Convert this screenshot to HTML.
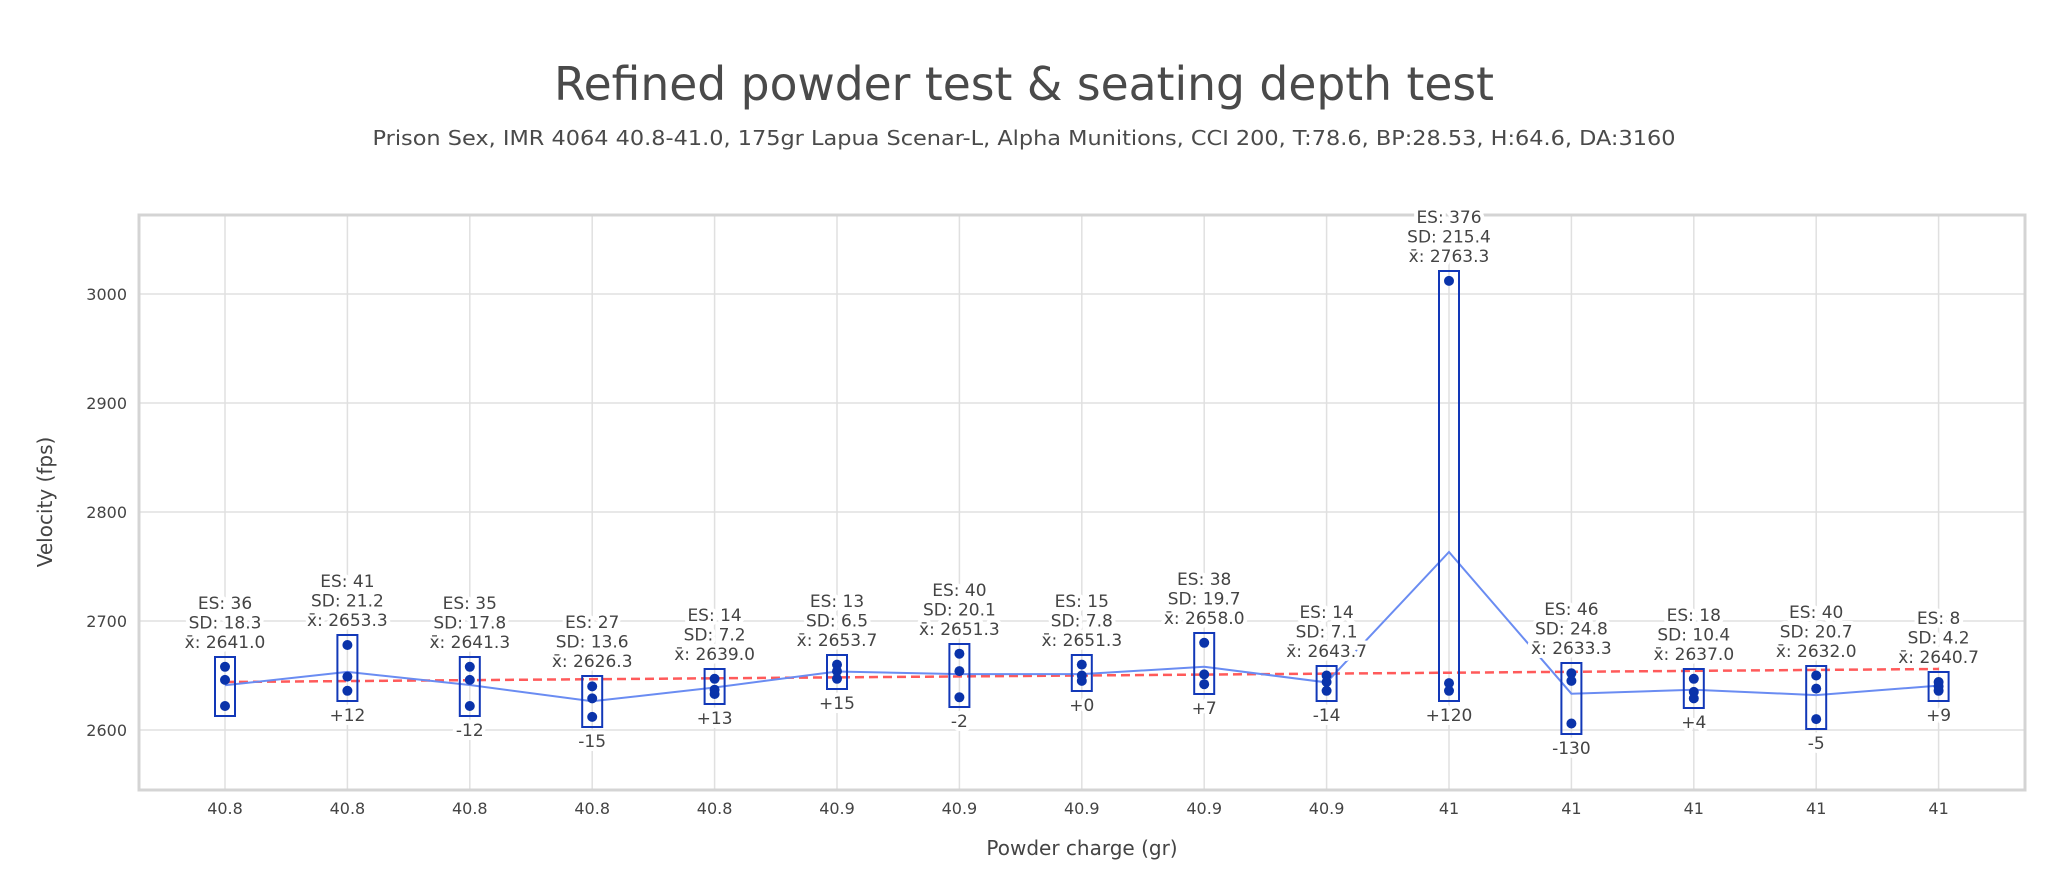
<!DOCTYPE html>
<html><head><meta charset="utf-8"><style>
html,body{margin:0;padding:0;background:#fff;}
svg{display:block;font-family:"DejaVu Sans","Liberation Sans",sans-serif;}
.g{stroke:#e0e0e0;stroke-width:1.5;}
.t{font-size:17px;fill:#444;text-anchor:middle;paint-order:stroke;stroke:#fff;stroke-width:8px;stroke-linejoin:round;}
.b{fill:none;stroke:#1238b8;stroke-width:2;}
.d{fill:#0a33aa;}
.tk{font-size:16px;fill:#444;}
</style></head><body>
<svg width="2048" height="889" viewBox="0 0 2048 889" xmlns="http://www.w3.org/2000/svg">
<rect width="2048" height="889" fill="#fff"/>
<text x="1024" y="100" font-size="46" fill="#4a4a4a" text-anchor="middle" textLength="940" lengthAdjust="spacingAndGlyphs">Refined powder test &amp; seating depth test</text>
<text x="1024" y="145" font-size="20" fill="#4a4a4a" text-anchor="middle" textLength="1303" lengthAdjust="spacingAndGlyphs">Prison Sex, IMR 4064 40.8-41.0, 175gr Lapua Scenar-L, Alpha Munitions, CCI 200, T:78.6, BP:28.53, H:64.6, DA:3160</text>
<g class="g">
<line x1="139" y1="294" x2="2025" y2="294"/><line x1="139" y1="403" x2="2025" y2="403"/><line x1="139" y1="512" x2="2025" y2="512"/><line x1="139" y1="621" x2="2025" y2="621"/><line x1="139" y1="730" x2="2025" y2="730"/>
<line x1="225" y1="215" x2="225" y2="790"/><line x1="347.4" y1="215" x2="347.4" y2="790"/><line x1="469.8" y1="215" x2="469.8" y2="790"/><line x1="592.2" y1="215" x2="592.2" y2="790"/><line x1="714.6" y1="215" x2="714.6" y2="790"/><line x1="837" y1="215" x2="837" y2="790"/><line x1="959.4" y1="215" x2="959.4" y2="790"/><line x1="1081.8" y1="215" x2="1081.8" y2="790"/><line x1="1204.2" y1="215" x2="1204.2" y2="790"/><line x1="1326.6" y1="215" x2="1326.6" y2="790"/><line x1="1449" y1="215" x2="1449" y2="790"/><line x1="1571.4" y1="215" x2="1571.4" y2="790"/><line x1="1693.8" y1="215" x2="1693.8" y2="790"/><line x1="1816.2" y1="215" x2="1816.2" y2="790"/><line x1="1938.6" y1="215" x2="1938.6" y2="790"/>
</g>
<rect x="139" y="215" width="1886" height="575" fill="none" stroke="#d4d4d4" stroke-width="3"/>
<g class="tk" text-anchor="end">
<text x="127" y="300">3000</text><text x="127" y="409">2900</text><text x="127" y="518">2800</text><text x="127" y="627">2700</text><text x="127" y="736">2600</text>
</g>
<g class="tk" text-anchor="middle">
<text x="225" y="814">40.8</text><text x="347.4" y="814">40.8</text><text x="469.8" y="814">40.8</text><text x="592.2" y="814">40.8</text><text x="714.6" y="814">40.8</text><text x="837" y="814">40.9</text><text x="959.4" y="814">40.9</text><text x="1081.8" y="814">40.9</text><text x="1204.2" y="814">40.9</text><text x="1326.6" y="814">40.9</text><text x="1449" y="814">41</text><text x="1571.4" y="814">41</text><text x="1693.8" y="814">41</text><text x="1816.2" y="814">41</text><text x="1938.6" y="814">41</text>
</g>
<text x="1082" y="855" font-size="20" fill="#444" text-anchor="middle">Powder charge (gr)</text>
<text transform="translate(52,502) rotate(-90)" font-size="20" fill="#444" text-anchor="middle">Velocity (fps)</text>
<line x1="225" y1="682" x2="1939" y2="669" stroke="#ff5a5a" stroke-width="2.5" stroke-dasharray="9,5"/>
<polyline fill="none" stroke="#6a8cf2" stroke-width="2" points="225,685.3 347.4,671.9 469.8,685 592.2,701.3 714.6,687.5 837,671.5 959.4,674.1 1081.8,674.1 1204.2,666.8 1326.6,682.4 1449,552 1571.4,693.7 1693.8,689.7 1816.2,695.1 1938.6,685.6"/>
<g class="b">
<rect x="215" y="657" width="20" height="59"/><rect x="337.4" y="635" width="20" height="66"/><rect x="459.8" y="657" width="20" height="59"/><rect x="582.2" y="676" width="20" height="51"/><rect x="704.6" y="669" width="20" height="35"/><rect x="827" y="655" width="20" height="34"/><rect x="949.4" y="644" width="20" height="63"/><rect x="1071.8" y="655" width="20" height="36"/><rect x="1194.2" y="633" width="20" height="61"/><rect x="1316.6" y="666" width="20" height="35"/><rect x="1439" y="271" width="20" height="430"/><rect x="1561.4" y="663" width="20" height="71"/><rect x="1683.8" y="669" width="20" height="39"/><rect x="1806.2" y="666" width="20" height="63"/><rect x="1928.6" y="672" width="20" height="29"/>
</g>
<g class="d">
<circle cx="225" cy="666.8" r="5"/><circle cx="225" cy="679.9" r="5"/><circle cx="225" cy="706" r="5"/>
<circle cx="347.4" cy="645" r="5"/><circle cx="347.4" cy="676.6" r="5"/><circle cx="347.4" cy="690.8" r="5"/>
<circle cx="469.8" cy="666.8" r="5"/><circle cx="469.8" cy="679.9" r="5"/><circle cx="469.8" cy="706" r="5"/>
<circle cx="592.2" cy="686.4" r="5"/><circle cx="592.2" cy="698.4" r="5"/><circle cx="592.2" cy="716.9" r="5"/>
<circle cx="714.6" cy="678.8" r="5"/><circle cx="714.6" cy="689.7" r="5"/><circle cx="714.6" cy="694" r="5"/>
<circle cx="837" cy="664.6" r="5"/><circle cx="837" cy="671.1" r="5"/><circle cx="837" cy="678.8" r="5"/>
<circle cx="959.4" cy="653.7" r="5"/><circle cx="959.4" cy="671.1" r="5"/><circle cx="959.4" cy="697.3" r="5"/>
<circle cx="1081.8" cy="664.6" r="5"/><circle cx="1081.8" cy="675.5" r="5"/><circle cx="1081.8" cy="680.9" r="5"/>
<circle cx="1204.2" cy="642.8" r="5"/><circle cx="1204.2" cy="674.4" r="5"/><circle cx="1204.2" cy="684.2" r="5"/>
<circle cx="1326.6" cy="675.5" r="5"/><circle cx="1326.6" cy="682" r="5"/><circle cx="1326.6" cy="690.8" r="5"/>
<circle cx="1449" cy="280.9" r="5"/><circle cx="1449" cy="683.1" r="5"/><circle cx="1449" cy="690.8" r="5"/>
<circle cx="1571.4" cy="673.3" r="5"/><circle cx="1571.4" cy="680.9" r="5"/><circle cx="1571.4" cy="723.5" r="5"/>
<circle cx="1693.8" cy="678.8" r="5"/><circle cx="1693.8" cy="691.9" r="5"/><circle cx="1693.8" cy="698.4" r="5"/>
<circle cx="1816.2" cy="675.5" r="5"/><circle cx="1816.2" cy="688.6" r="5"/><circle cx="1816.2" cy="719.1" r="5"/>
<circle cx="1938.6" cy="682" r="5"/><circle cx="1938.6" cy="686.4" r="5"/><circle cx="1938.6" cy="690.8" r="5"/>
</g>
<g class="t">
<text x="225" y="609">ES: 36</text><text x="225" y="628.5">SD: 18.3</text><text x="225" y="648">x̄: 2641.0</text>
<text x="347.4" y="587">ES: 41</text><text x="347.4" y="606.5">SD: 21.2</text><text x="347.4" y="626">x̄: 2653.3</text><text x="347.4" y="721">+12</text>
<text x="469.8" y="609">ES: 35</text><text x="469.8" y="628.5">SD: 17.8</text><text x="469.8" y="648">x̄: 2641.3</text><text x="469.8" y="736">-12</text>
<text x="592.2" y="628">ES: 27</text><text x="592.2" y="647.5">SD: 13.6</text><text x="592.2" y="667">x̄: 2626.3</text><text x="592.2" y="747">-15</text>
<text x="714.6" y="621">ES: 14</text><text x="714.6" y="640.5">SD: 7.2</text><text x="714.6" y="660">x̄: 2639.0</text><text x="714.6" y="724">+13</text>
<text x="837" y="607">ES: 13</text><text x="837" y="626.5">SD: 6.5</text><text x="837" y="646">x̄: 2653.7</text><text x="837" y="709">+15</text>
<text x="959.4" y="596">ES: 40</text><text x="959.4" y="615.5">SD: 20.1</text><text x="959.4" y="635">x̄: 2651.3</text><text x="959.4" y="727">-2</text>
<text x="1081.8" y="607">ES: 15</text><text x="1081.8" y="626.5">SD: 7.8</text><text x="1081.8" y="646">x̄: 2651.3</text><text x="1081.8" y="711">+0</text>
<text x="1204.2" y="585">ES: 38</text><text x="1204.2" y="604.5">SD: 19.7</text><text x="1204.2" y="624">x̄: 2658.0</text><text x="1204.2" y="714">+7</text>
<text x="1326.6" y="618">ES: 14</text><text x="1326.6" y="637.5">SD: 7.1</text><text x="1326.6" y="657">x̄: 2643.7</text><text x="1326.6" y="721">-14</text>
<text x="1449" y="223">ES: 376</text><text x="1449" y="242.5">SD: 215.4</text><text x="1449" y="262">x̄: 2763.3</text><text x="1449" y="721">+120</text>
<text x="1571.4" y="615">ES: 46</text><text x="1571.4" y="634.5">SD: 24.8</text><text x="1571.4" y="654">x̄: 2633.3</text><text x="1571.4" y="754">-130</text>
<text x="1693.8" y="621">ES: 18</text><text x="1693.8" y="640.5">SD: 10.4</text><text x="1693.8" y="660">x̄: 2637.0</text><text x="1693.8" y="728">+4</text>
<text x="1816.2" y="618">ES: 40</text><text x="1816.2" y="637.5">SD: 20.7</text><text x="1816.2" y="657">x̄: 2632.0</text><text x="1816.2" y="749">-5</text>
<text x="1938.6" y="624">ES: 8</text><text x="1938.6" y="643.5">SD: 4.2</text><text x="1938.6" y="663">x̄: 2640.7</text><text x="1938.6" y="721">+9</text>
</g>
</svg>
</body></html>
